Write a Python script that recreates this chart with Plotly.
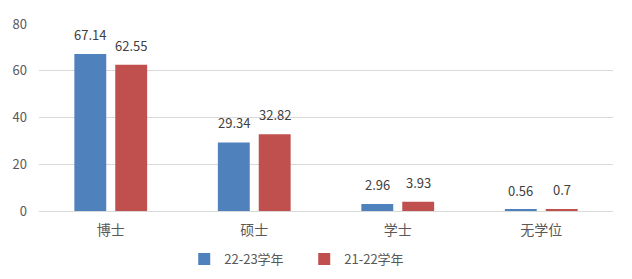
import plotly.graph_objects as go

categories = ["博士", "硕士", "学士", "无学位"]
series_names = ["22-23学年", "21-22学年"]
values_2223 = [67.14, 29.34, 2.96, 0.56]
values_2122 = [62.55, 32.82, 3.93, 0.7]
colors = ["#4F81BD", "#C0504D"]
y_ticks = [0, 20, 40, 60, 80]

FONT = "Noto Sans CJK SC, Microsoft YaHei, sans-serif"

fig = go.Figure()
series = [values_2223, values_2122]
for name, vals, col in zip(series_names, series, colors):
    fig.add_trace(go.Bar(
        x=categories, y=vals, name=name,
        marker=dict(color=col, line=dict(width=0)),
        cliponaxis=False,
    ))

# value labels above each bar, offset to each bar's position in the group
for offset, vals in zip([-20.5, 20.5], series):
    for cat, v in zip(categories, vals):
        fig.add_annotation(
            x=cat, y=v, text=f"{v:g}", showarrow=False,
            xanchor="center", yanchor="bottom", xshift=offset, yshift=8,
            font=dict(family=FONT, size=13, color="#404040"),
        )

fig.update_layout(
    width=632, height=279,
    margin=dict(l=39, r=19, t=24, b=68, autoexpand=False),
    paper_bgcolor="white", plot_bgcolor="white",
    barmode="group", bargap=0.43, bargroupgap=0.22,
    font=dict(family=FONT, color="#595959"),
    showlegend=True,
    legend=dict(orientation="h", x=0.253, xanchor="left", y=-0.257, yanchor="middle",
                font=dict(family=FONT, size=13, color="#595959"),
                itemwidth=30, entrywidth=75, traceorder="normal"),
    xaxis=dict(showgrid=False, showline=False, ticks="",
               tickfont=dict(family=FONT, size=14, color="#595959"),
               ticklabelstandoff=9),
    yaxis=dict(range=[0, 80], tickvals=y_ticks, showgrid=True, gridcolor="#D9D9D9",
               gridwidth=1, zeroline=True, zerolinecolor="#D9D9D9", zerolinewidth=1,
               showline=False, ticks="",
               tickfont=dict(family=FONT, size=13, color="#595959"),
               ticklabelstandoff=11),
)

fig.write_html("out.html")
